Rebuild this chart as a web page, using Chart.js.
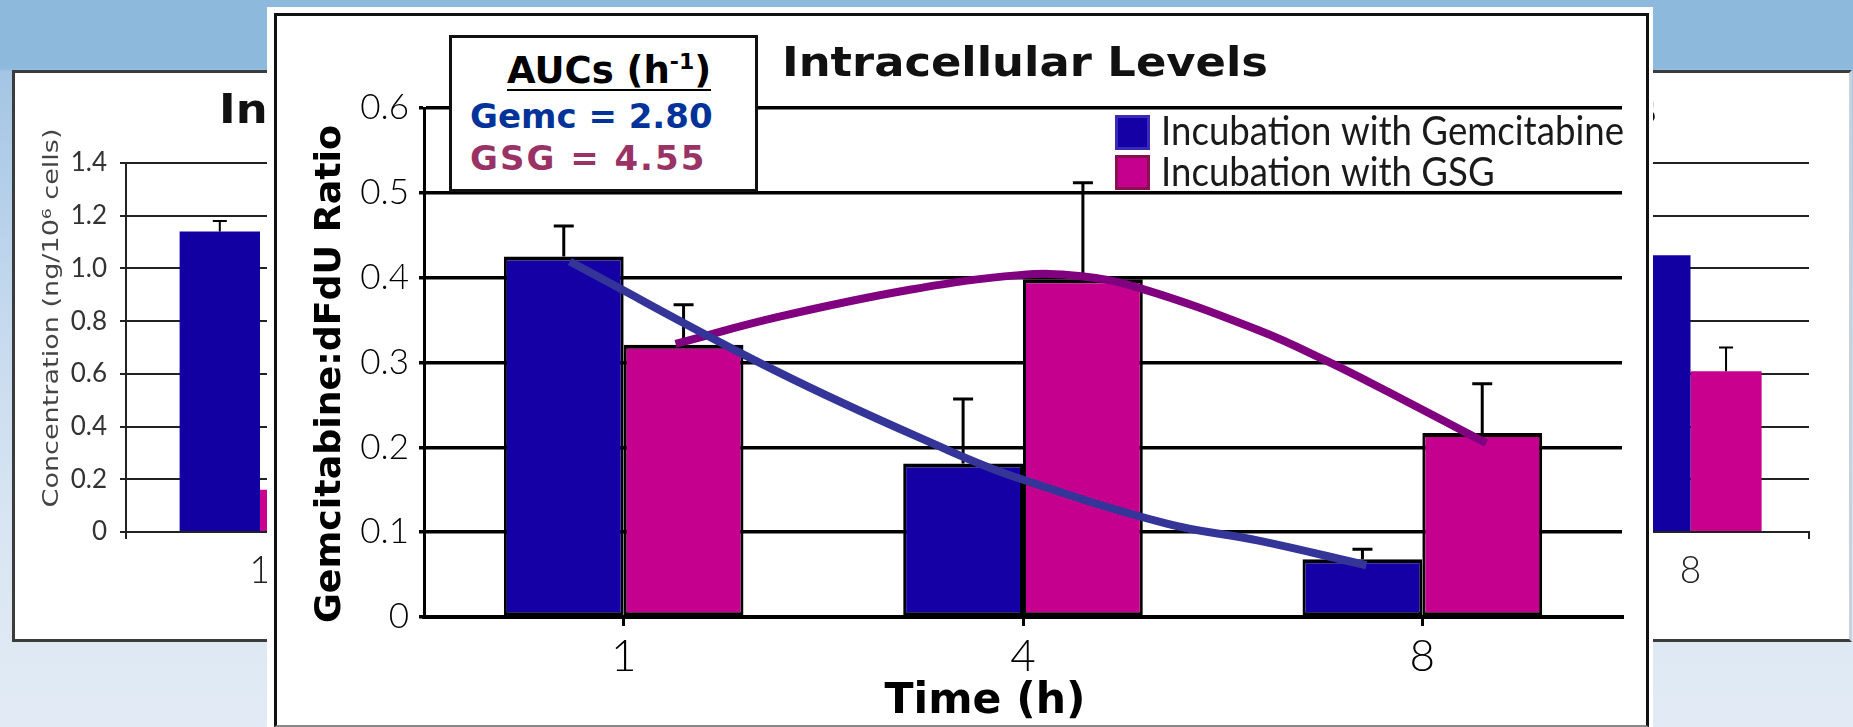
<!DOCTYPE html>
<html>
<head>
<meta charset="utf-8">
<script src="https://cdn.jsdelivr.net/npm/chart.js@4.4.0/dist/chart.umd.min.js"></script>
<style>
  html, body { margin: 0; padding: 0; }
  body {
    width: 1853px; height: 727px; overflow: hidden; position: relative;
    background: linear-gradient(to bottom, #8cb9dc 0px, #8cb9dc 68px, #a4c5e4 72px, #c3d8ee 300px, #d8e5f2 520px, #e2ebf5 727px);
  }
  canvas { display: block; }
  .bgframe { position: absolute; top: 70px; background: #fff; border: 3px solid #3c3c3c; z-index: 1; }
  #bgLeftFrame { left: 12px; }
  #bgRightFrame { left: 984px; border-right-color: #c8d2dc; }
  #mainOuter { position: absolute; left: 267px; top: 7px; width: 1386px; height: 720px; background: #fff; z-index: 2; }
  #mainFrame { position: absolute; left: 274px; top: 13px; width: 1369px; height: 709px; border: 3px solid #111; border-bottom: 2px solid #888; background: #fff; z-index: 3; }
  #mainFrame canvas { position: absolute; left: 0; top: 0; }
  #auc { position: absolute; left: 449px; top: 35px; width: 303px; height: 151px; border: 3px solid #111; background: #fff; z-index: 5;
         font-family: "DejaVu Sans", sans-serif; font-weight: bold; }
  #auc div { position: absolute; line-height: 1; white-space: nowrap; }
  #auc .hd { left: 55px; top: 14px; font-size: 37px; color: #000; border-bottom: 2px solid #000; }
  #auc .hd sup { font-size: 22px; line-height: 0; vertical-align: 14px; }
  #auc .gemc { left: 18px; top: 61px; font-size: 34px; color: #003399; }
  #auc .gsg { left: 18px; top: 103px; font-size: 34px; color: #993366; letter-spacing: 2px; }
</style>
</head>
<body>
<div class="bgframe" id="bgLeftFrame"><canvas id="bgLeft" width="960" height="566"></canvas></div>
<div class="bgframe" id="bgRightFrame"><canvas id="bgRight" width="862" height="566"></canvas></div>
<div id="mainOuter"></div>
<div id="mainFrame">
  <canvas id="chart" width="1369" height="709"></canvas>
  <canvas id="fits" width="1369" height="709"></canvas>
</div>
<div id="auc">
  <div class="hd">AUCs (h<sup>-1</sup>)</div>
  <div class="gemc" id="aucGemc"></div>
  <div class="gsg" id="aucGsg"></div>
</div>

<script>
// main chart data
const timeLabels = ['1', '4', '8'];
const seriesNames = ['Incubation with Gemcitabine', 'Incubation with GSG'];
const gemcRatio = [0.425, 0.181, 0.068];
const gemcRatioErr = [0.036, 0.076, 0.012];
const gsgRatio = [0.321, 0.398, 0.217];
const gsgRatioErr = [0.047, 0.114, 0.058];
const ratioTicks = [0, 0.1, 0.2, 0.3, 0.4, 0.5, 0.6];
const ratioTickLabels = ['0', '0.1', '0.2', '0.3', '0.4', '0.5', '0.6'];

// trend curves in category steps (0 = 1 h, 1 = 4 h, 2 = 8 h)
const gemcCurveX = [-0.135, 0.39, 0.81, 0.98, 1.36, 1.59, 1.86];
const gemcCurveY = [0.419, 0.288, 0.197, 0.165, 0.110, 0.090, 0.061];
const gsgCurveX = [0.13, 0.39, 0.72, 0.99, 1.14, 1.29, 1.59, 1.755, 1.92, 2.16];
const gsgCurveY = [0.322, 0.354, 0.386, 0.403, 0.402, 0.388, 0.338, 0.303, 0.264, 0.205];

const aucGemc = 2.80;
const aucGsg = 4.55;

// slide charts behind (only partly visible)
const concTicks = [0, 0.2, 0.4, 0.6, 0.8, 1.0, 1.2, 1.4];
const concTickLabels = ['0', '0.2', '0.4', '0.6', '0.8', '1.0', '1.2', '1.4'];
const concGemc = [1.14, null, 1.05];
const concGemcErr = [0.04, null, null];
const concGsg = [0.16, null, 0.61];
const concGsgErr = [null, null, 0.09];

const chartTitle = 'Intracellular Levels';
const yTitle = 'Gemcitabine:dFdU Ratio';
const xTitle = 'Time (h)';
const concTitle = 'Concentration (ng/10\u2076 cells)';

const BLUE = '#1500a6';
const PINK = '#c6008e';

// main plot box inside the canvas (same for bars and fitted curves)
const PAD = { left: 147, right: 24, top: 92, bottom: 108 };

document.getElementById('aucGemc').textContent = 'Gemc = ' + aucGemc.toFixed(2);
document.getElementById('aucGsg').textContent = 'GSG = ' + aucGsg.toFixed(2);

function fitText(ctx, text, x, y, targetW, align) {
  const sx = targetW / ctx.measureText(text).width;
  ctx.save();
  ctx.translate(x, y);
  ctx.scale(sx, 1);
  ctx.textAlign = align;
  ctx.fillText(text, 0, 0);
  ctx.restore();
}

// upward whiskers on the bars
const errorBars = {
  id: 'errorBars',
  afterDatasetDraw(chart, args, opts) {
    const ds = chart.data.datasets[args.index];
    if (!ds.errors) return;
    const yScale = chart.scales[args.meta.yAxisID];
    const ctx = chart.ctx;
    ctx.save();
    ctx.strokeStyle = '#000';
    ctx.lineWidth = opts.width;
    args.meta.data.forEach((bar, i) => {
      const v = ds.data[i], e = ds.errors[i];
      if (v == null || e == null) return;
      const top = yScale.getPixelForValue(v + e);
      ctx.beginPath();
      ctx.moveTo(bar.x, bar.y);
      ctx.lineTo(bar.x, top);
      ctx.moveTo(bar.x - opts.cap, top);
      ctx.lineTo(bar.x + opts.cap, top);
      ctx.stroke();
    });
    ctx.restore();
  }
};

const mainText = {
  id: 'mainText',
  afterDraw(chart) {
    const ctx = chart.ctx;
    const a = chart.chartArea;
    ctx.save();
    ctx.fillStyle = '#111';
    ctx.textBaseline = 'alphabetic';

    ctx.font = 'bold 40px "DejaVu Sans", sans-serif';
    fitText(ctx, chartTitle, (a.left + a.right) / 2 + 2, 60, 486, 'center');

    // legend
    ctx.font = '400 41px Lato, sans-serif';
    const w0 = ctx.measureText(seriesNames[0]).width;
    chart.data.datasets.forEach((d, i) => {
      const y = 99 + i * 40;
      ctx.fillStyle = d.backgroundColor;
      ctx.fillRect(838, y, 35, 35);
      ctx.strokeStyle = i === 0 ? '#3a2ab8' : '#8a1050';
      ctx.lineWidth = 3;
      ctx.strokeRect(839.5, y + 1.5, 32, 32);
      ctx.fillStyle = '#1a1a1a';
      ctx.save();
      ctx.translate(884, 129 + i * 41);
      ctx.scale(463 / w0, 1);
      ctx.textAlign = 'left';
      ctx.fillText(d.label, 0, 0);
      ctx.restore();
    });

    ctx.fillStyle = '#000';
    ctx.font = 'bold 42px "DejaVu Sans", sans-serif';
    fitText(ctx, xTitle, 708, 697, 201, 'center');

    ctx.font = 'bold 36px "DejaVu Sans", sans-serif';
    ctx.translate(63, 358);
    ctx.rotate(-Math.PI / 2);
    fitText(ctx, yTitle, 0, 0, 498, 'center');
    ctx.restore();
  }
};

const bgText = {
  id: 'bgText',
  afterDraw(chart, args, opts) {
    const ctx = chart.ctx;
    ctx.save();
    ctx.fillStyle = '#111';
    ctx.textBaseline = 'alphabetic';
    ctx.font = 'bold 40px "DejaVu Sans", sans-serif';
    fitText(ctx, chartTitle, opts.titleX, 50, 486, 'center');
    ctx.fillStyle = '#444';
    ctx.font = '22px "DejaVu Sans", sans-serif';
    ctx.translate(43, 245);
    ctx.rotate(-Math.PI / 2);
    fitText(ctx, concTitle, 0, 0, 379, 'center');
    ctx.restore();
  }
};

// bars, axes, error bars, legend and titles
new Chart(document.getElementById('chart'), {
  type: 'bar',
  data: {
    labels: timeLabels,
    datasets: [
      {
        label: seriesNames[0], data: gemcRatio, errors: gemcRatioErr,
        backgroundColor: BLUE, borderColor: '#000', borderSkipped: false,
        borderWidth: { top: 4, left: 3, right: 3, bottom: 3 },
        categoryPercentage: 0.6, barPercentage: 1
      },
      {
        label: seriesNames[1], data: gsgRatio, errors: gsgRatioErr,
        backgroundColor: PINK, borderColor: '#000', borderSkipped: false,
        borderWidth: { top: 4, left: 3, right: 3, bottom: 3 },
        categoryPercentage: 0.6, barPercentage: 1
      }
    ]
  },
  options: {
    responsive: false,
    animation: false,
    devicePixelRatio: 1,
    layout: { padding: { left: 0, right: PAD.right, top: PAD.top, bottom: 0 } },
    plugins: {
      legend: { display: false },
      tooltip: { enabled: false },
      errorBars: { width: 3, cap: 10 }
    },
    scales: {
      x: {
        grid: { offset: false, drawOnChartArea: false, tickLength: 9, color: '#000', lineWidth: 3 },
        border: { display: true, color: '#000', width: 4 },
        ticks: { font: { family: 'Lato', size: 44, weight: '300' }, color: '#000', padding: 4, maxRotation: 0, autoSkip: false },
        afterFit(s) { s.height = PAD.bottom; }
      },
      y: {
        min: 0, max: 0.6,
        afterBuildTicks(s) { s.ticks = ratioTicks.map(v => ({ value: v })); },
        afterFit(s) { s.width = PAD.left; },
        grid: { color: '#000', lineWidth: 3.5, tickLength: 5 },
        border: { color: '#000', width: 3 },
        ticks: {
          font: { family: 'Lato', size: 35, weight: '300' }, color: '#000', padding: 10,
          callback: (v, i) => ratioTickLabels[i]
        }
      }
    }
  },
  plugins: [errorBars, mainText]
});

// fitted curves, on a transparent chart laid over the same plot box
new Chart(document.getElementById('fits'), {
  type: 'line',
  data: {
    datasets: [
      {
        label: 'Gemc fit',
        data: gemcCurveX.map((x, i) => ({ x, y: gemcCurveY[i] })),
        borderColor: '#343499', borderWidth: 8, pointRadius: 0, tension: 0.4, fill: false
      },
      {
        label: 'GSG fit',
        data: gsgCurveX.map((x, i) => ({ x, y: gsgCurveY[i] })),
        borderColor: '#800080', borderWidth: 8, pointRadius: 0, tension: 0.4, fill: false
      }
    ]
  },
  options: {
    responsive: false,
    animation: false,
    devicePixelRatio: 1,
    layout: { padding: PAD },
    plugins: { legend: { display: false }, tooltip: { enabled: false } },
    scales: {
      x: { type: 'linear', display: false, offset: false, min: -0.5, max: 2.5 },
      y: { type: 'linear', display: false, min: 0, max: 0.6 }
    }
  }
});

function slideChart(id, padRight, titleX) {
  return new Chart(document.getElementById(id), {
    type: 'bar',
    data: {
      labels: timeLabels,
      datasets: [
        { label: seriesNames[0], data: concGemc, errors: concGemcErr, backgroundColor: '#1300a2', categoryPercentage: 0.6, barPercentage: 1 },
        { label: seriesNames[1], data: concGsg, errors: concGsgErr, backgroundColor: '#c9008d', categoryPercentage: 0.6, barPercentage: 1 }
      ]
    },
    options: {
      responsive: false,
      animation: false,
      devicePixelRatio: 1,
      layout: { padding: { left: 0, right: padRight, top: 90, bottom: 0 } },
      plugins: {
        legend: { display: false },
        tooltip: { enabled: false },
        errorBars: { width: 2, cap: 7 },
        bgText: { titleX }
      },
      scales: {
        x: {
          grid: { offset: true, drawOnChartArea: false, tickLength: 7, color: '#222', lineWidth: 2 },
          border: { color: '#222', width: 2 },
          ticks: { font: { family: 'Lato', size: 37, weight: '300' }, color: '#222', padding: 10, maxRotation: 0 },
          afterFit(s) { s.height = 107; }
        },
        y: {
          min: 0, max: 1.4,
          afterBuildTicks(s) { s.ticks = concTicks.map(v => ({ value: v })); },
          afterFit(s) { s.width = 111; },
          grid: { color: '#222', lineWidth: 2, tickLength: 6 },
          border: { color: '#222', width: 2 },
          ticks: { font: { family: 'Lato', size: 26 }, color: '#333', padding: 13, callback: (v, i) => concTickLabels[i] }
        }
      }
    },
    plugins: [errorBars, bgText]
  });
}

slideChart('bgLeft', 45, 447);
slideChart('bgRight', 40, 427);
</script>
</body>
</html>
